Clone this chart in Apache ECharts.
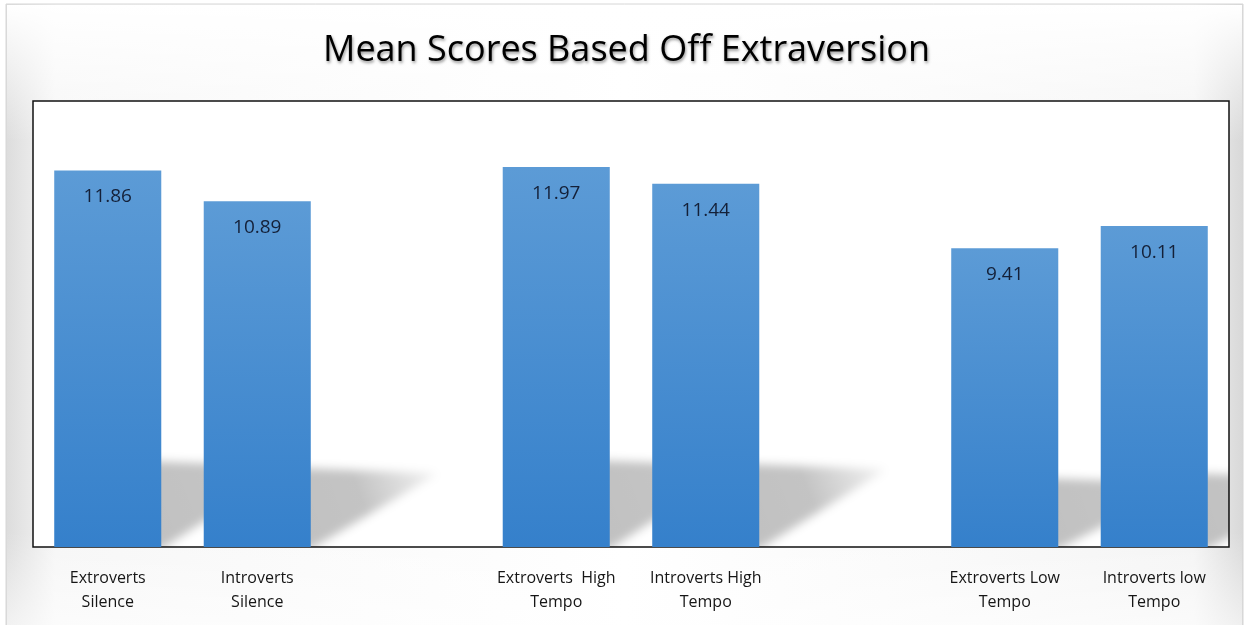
<!DOCTYPE html>
<html>
<head>
<meta charset="utf-8">
<script src="https://cdn.jsdelivr.net/npm/echarts@6/dist/echarts.min.js"></script>
<style>
  html, body { margin: 0; padding: 0; background: #fff; }
  #chart { width: 1253px; height: 625px; }
</style>
</head>
<body>
<div id="chart"></div>
<script>
  // categories (blank ones are the gaps between groups)
  var categories = [
    'Extroverts\nSilence', 'Introverts\nSilence', '',
    'Extroverts  High\nTempo', 'Introverts High\nTempo', '',
    'Extroverts Low\nTempo', 'Introverts low\nTempo'
  ]
  var meanScores = [11.86, 10.89, '-', 11.97, 11.44, '-', 9.41, 10.11]

  var chart = echarts.init(document.getElementById('chart'))

  // soft perspective shadow behind each bar
  // the shape itself is pushed off to the left, only its blurred shadow lands on the plot
  var SHIFT = 3000
  function renderShadow(params, api) {
    var v = api.value(1)
    if (v === '-' || isNaN(v)) return
    var base = api.coord([api.value(0), 0])
    var top = api.coord([api.value(0), v])
    var w = api.size([1, 0])[0] * 0.716
    var xl = base[0] - w / 2
    var xr = base[0] + w / 2
    var by = base[1]
    var dy = (by - top[1]) * 0.22
    return {
      type: 'polygon',
      shape: {
        points: [
          [xl + 10 - SHIFT, by + 2],
          [xr - SHIFT, by + 2],
          [xr + 128 - SHIFT, by - dy + 2],
          [xl + 40 - SHIFT, by - dy - 5]
        ]
      },
      style: {
        fill: new echarts.graphic.LinearGradient(0, 1, 1, 0, [
          { offset: 0, color: 'rgba(0,0,0,1)' },
          { offset: 0.65, color: 'rgba(0,0,0,0.9)' },
          { offset: 1, color: 'rgba(0,0,0,0.15)' }
        ]),
        shadowBlur: 10,
        shadowOffsetX: SHIFT,
        shadowColor: 'rgba(0,0,0,0.26)'
      }
    }
  }

  chart.setOption({
    animation: false,
    graphic: [
      {
        type: 'rect',
        z: -10,
        silent: true,
        shape: { x: 6, y: 4, width: 1237, height: 640 },
        style: {
          fill: new echarts.graphic.LinearGradient(0, 0, 1, 0, [
            { offset: 0, color: '#dcdcdc' },
            { offset: 0.04, color: '#f6f6f6' },
            { offset: 0.5, color: '#ffffff' },
            { offset: 0.96, color: '#f4f4f4' },
            { offset: 1, color: '#d8d8d8' }
          ]),
          stroke: '#d6d6d6',
          lineWidth: 1
        }
      },
      {
        type: 'rect',
        z: -9,
        silent: true,
        shape: { x: 7, y: 5, width: 1235, height: 620 },
        style: {
          fill: new echarts.graphic.LinearGradient(0, 0, 0, 1, [
            { offset: 0, color: 'rgba(255,255,255,1)' },
            { offset: 0.22, color: 'rgba(255,255,255,0)' },
            { offset: 0.85, color: 'rgba(255,255,255,0)' },
            { offset: 1, color: 'rgba(255,255,255,0.6)' }
          ])
        }
      }
    ],
    title: {
      text: 'Mean Scores Based Off Extraversion',
      left: 'center',
      top: 28,
      textStyle: {
        fontFamily: 'Open Sans',
        fontSize: 36,
        fontWeight: 'normal',
        color: '#000',
        textShadowColor: 'rgba(0,0,0,0.4)',
        textShadowBlur: 3,
        textShadowOffsetX: 1,
        textShadowOffsetY: 2
      }
    },
    grid: {
      left: 33,
      right: 24,
      top: 101,
      bottom: 78,
      show: true,
      backgroundColor: '#fff',
      borderColor: '#111',
      borderWidth: 1.5
    },
    xAxis: {
      type: 'category',
      data: categories,
      axisLine: { show: false },
      axisTick: { show: false },
      axisLabel: {
        interval: 0,
        margin: 19,
        lineHeight: 24,
        fontFamily: 'Open Sans',
        fontSize: 16,
        color: '#161616'
      }
    },
    yAxis: {
      type: 'value',
      min: 0,
      max: 14.05,
      show: false,
      splitLine: { show: false }
    },
    series: [
      {
        type: 'custom',
        renderItem: renderShadow,
        clip: true,
        z: 1,
        silent: true,
        data: meanScores.map(function (v, i) { return [i, v] })
      },
      {
        type: 'bar',
        z: 2,
        data: meanScores,
        barWidth: '71.6%',
        itemStyle: {
          color: new echarts.graphic.LinearGradient(0, 0, 0, 1, [
            { offset: 0, color: '#5c9bd6' },
            { offset: 1, color: '#3580cb' }
          ])
        },
        label: {
          show: true,
          position: 'insideTop',
          distance: 17,
          fontFamily: 'Open Sans',
          fontSize: 19,
          color: '#142038'
        }
      }
    ]
  })
</script>
</body>
</html>
